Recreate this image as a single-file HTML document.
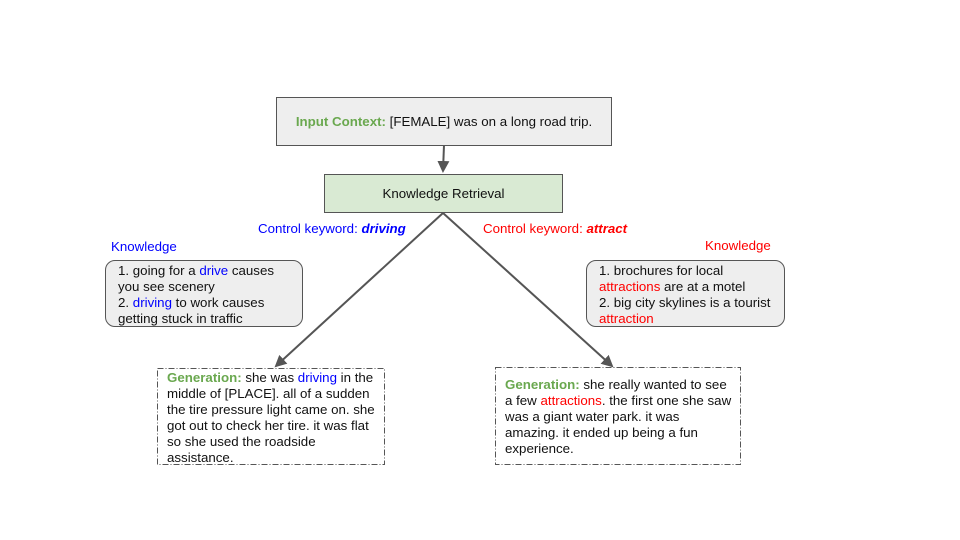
<!DOCTYPE html>
<html><head><meta charset="utf-8"><style>
body{margin:0;width:960px;height:540px;background:#fff;position:relative;font-family:"Liberation Sans",sans-serif;font-size:13.3px;color:#111;overflow:hidden}
.a{position:absolute;box-sizing:border-box}
.g{color:#6aa84f;font-weight:bold}
.b{color:#0000ff}.r{color:#ff0000}
.kb{background:#eeeeee;border:1px solid #555;border-radius:10px;padding:2px 0 0 12px;line-height:16px}
.gen{line-height:16px;padding:2px 0 0 9px}
</style></head><body>
<svg class="a" style="left:0;top:0" width="960" height="540">
<defs><marker id="m" markerWidth="12" markerHeight="12" refX="10" refY="6" orient="auto" markerUnits="userSpaceOnUse"><path d="M0,0 L12,6 L0,12z" fill="#555"/></marker></defs>
<line x1="444" y1="145" x2="443" y2="171" stroke="#555" stroke-width="2" marker-end="url(#m)"/>
<line x1="443" y1="213" x2="276" y2="366" stroke="#555" stroke-width="2" marker-end="url(#m)"/>
<line x1="443" y1="213" x2="612" y2="366" stroke="#555" stroke-width="2" marker-end="url(#m)"/>
<rect x="157.5" y="368.5" width="227" height="96" fill="none" stroke="#555" stroke-dasharray="6,2,1,2"/>
<rect x="495.5" y="367.5" width="245" height="97" fill="none" stroke="#555" stroke-dasharray="6,2,1,2"/>
</svg>
<div class="a" style="left:276px;top:97px;width:336px;height:49px;background:#eeeeee;border:1px solid #555;text-align:center;line-height:47px"><span class="g">Input Context:</span> [FEMALE] was on a long road trip.</div>
<div class="a" style="left:324px;top:174px;width:239px;height:39px;background:#d9ead3;border:1px solid #555;text-align:center;line-height:37px">Knowledge Retrieval</div>
<div class="a b" style="left:258px;top:221px">Control keyword: <b><i>driving</i></b></div>
<div class="a r" style="left:483px;top:221px">Control keyword: <b><i>attract</i></b></div>
<div class="a b" style="left:111px;top:239px">Knowledge</div>
<div class="a r" style="left:705px;top:238px">Knowledge</div>
<div class="a kb" style="left:105px;top:260px;width:198px;height:67px">1. going for a <span class="b">drive</span> causes<br>you see scenery<br>2. <span class="b">driving</span> to work causes<br>getting stuck in traffic</div>
<div class="a kb" style="left:586px;top:260px;width:199px;height:67px">1. brochures for local<br><span class="r">attractions</span> are at a motel<br>2. big city skylines is a tourist<br><span class="r">attraction</span></div>
<div class="a gen" style="left:158px;top:368px;width:230px"><span class="g">Generation:</span> she was <span class="b">driving</span> in the<br>middle of [PLACE]. all of a sudden<br>the tire pressure light came on. she<br>got out to check her tire. it was flat<br>so she used the roadside<br>assistance.</div>
<div class="a gen" style="left:496px;top:375px;width:245px"><span class="g">Generation:</span> she really wanted to see<br>a few <span class="r">attractions</span>. the first one she saw<br>was a giant water park. it was<br>amazing. it ended up being a fun<br>experience.</div>
</body></html>
